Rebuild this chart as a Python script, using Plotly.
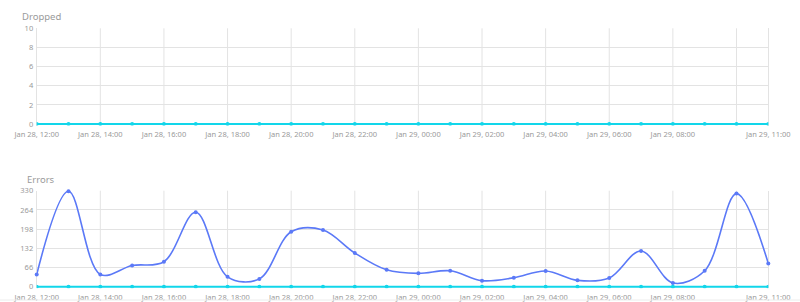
import pandas as pd
import plotly.graph_objects as go

times = pd.date_range("2024-01-28 12:00", "2024-01-29 11:00", freq="h")
dropped = [0] * 24
errors = [42, 328, 42, 73, 86, 256, 34, 27, 189, 195, 116, 58,
          46, 55, 21, 31, 54, 22, 30, 123, 13, 55, 320, 80]
zero_series = [0] * 24

tick_times = pd.to_datetime([
    "2024-01-28 12:00", "2024-01-28 14:00", "2024-01-28 16:00", "2024-01-28 18:00",
    "2024-01-28 20:00", "2024-01-28 22:00", "2024-01-29 00:00", "2024-01-29 02:00",
    "2024-01-29 04:00", "2024-01-29 06:00", "2024-01-29 08:00", "2024-01-29 11:00"])
tick_labels = ["Jan 28, 12:00", "Jan 28, 14:00", "Jan 28, 16:00", "Jan 28, 18:00",
               "Jan 28, 20:00", "Jan 28, 22:00", "Jan 29, 00:00", "Jan 29, 02:00",
               "Jan 29, 04:00", "Jan 29, 06:00", "Jan 29, 08:00", "Jan 29, 11:00"]
grid_times = pd.date_range("2024-01-28 12:00", "2024-01-29 10:00", freq="2h")

CYAN = "#12d6ea"
BLUE = "#5b79f7"
GRID = "#e3e3e3"
TXT = "#9a9a9a"
FONT = "Noto Sans, Open Sans, sans-serif"
TICK = dict(size=7.5, color=TXT, family=FONT)

fig = go.Figure()
fig.add_trace(go.Scatter(x=times, y=dropped, mode="lines+markers", xaxis="x", yaxis="y",
                         line=dict(color=CYAN, width=2), marker=dict(size=4, color=CYAN),
                         hoverinfo="skip"))
fig.add_trace(go.Scatter(x=times, y=errors, mode="lines+markers", xaxis="x2", yaxis="y2",
                         line=dict(color=BLUE, width=1.6, shape="spline", smoothing=1.0),
                         marker=dict(size=4, color=BLUE), cliponaxis=False, hoverinfo="skip"))
fig.add_trace(go.Scatter(x=times, y=zero_series, mode="lines+markers", xaxis="x2", yaxis="y2",
                         line=dict(color=CYAN, width=2), marker=dict(size=4, color=CYAN),
                         hoverinfo="skip"))

xdom = [36.7 / 800, 768.3 / 800]
xr = [times[0], times[-1]]
common_x = dict(domain=xdom, range=xr, tickmode="array", tickvals=tick_times, ticktext=tick_labels,
                showgrid=False, zeroline=False, showline=False,
                tickfont=TICK, ticks="", automargin=False, tickangle=0,
                ticklabelstandoff=3)
common_y = dict(gridcolor=GRID, zeroline=False, showline=True, mirror=True, linecolor=GRID,
                tickfont=TICK, ticks="", automargin=False, ticklabelstandoff=1,
                layer="below traces")
fig.update_layout(
    width=800, height=302, margin=dict(l=0, r=0, t=0, b=0, autoexpand=False),
    paper_bgcolor="white", plot_bgcolor="white", showlegend=False,
    xaxis=dict(**common_x, anchor="y"),
    xaxis2=dict(**common_x, anchor="y2"),
    yaxis=dict(**common_y, domain=[1 - 125.5 / 302, 1 - 28.3 / 302], range=[-0.15, 10],
               tickvals=[0, 2, 4, 6, 8, 10], anchor="x"),
    yaxis2=dict(**common_y, domain=[1 - 288.2 / 302, 1 - 190.7 / 302], range=[-5, 330],
                tickvals=[0, 66, 132, 198, 264, 330], anchor="x2"),
)

shapes = []
for ax, yref in (("x", "y"), ("x2", "y2")):
    for t in grid_times[1:]:
        shapes.append(dict(type="line", xref=ax, yref=yref + " domain", x0=t, x1=t, y0=0, y1=1,
                           line=dict(color=GRID, width=1), layer="below"))
shapes.append(dict(type="line", xref="paper", yref="paper", x0=0, x1=1, y0=1 - 300 / 302, y1=1 - 300 / 302,
                   line=dict(color="#ececec", width=1)))
fig.update_layout(shapes=shapes)

fig.add_annotation(text="Dropped", xref="paper", yref="paper", x=20 / 800, y=1 - 16 / 302,
                   xanchor="left", yanchor="middle", showarrow=False,
                   font=dict(size=9.5, color=TXT, family=FONT))
fig.add_annotation(text="Errors", xref="paper", yref="paper", x=25 / 800, y=1 - 179 / 302,
                   xanchor="left", yanchor="middle", showarrow=False,
                   font=dict(size=9.5, color=TXT, family=FONT))

fig.write_html("out.html")
